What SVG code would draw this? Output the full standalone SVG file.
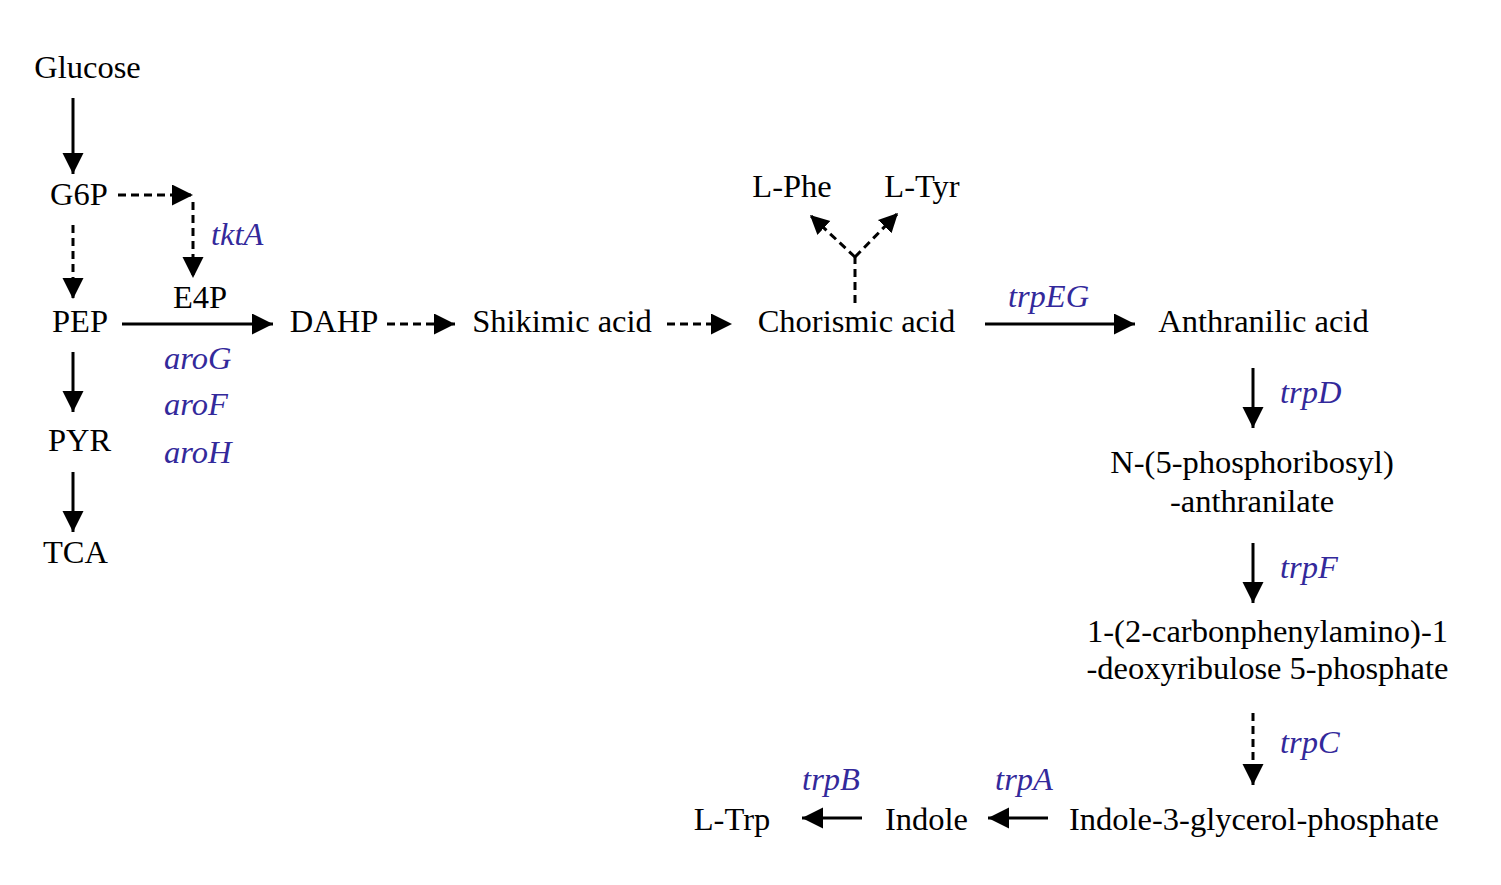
<svg xmlns="http://www.w3.org/2000/svg" width="1501" height="885" viewBox="0 0 1501 885">
<defs>
<style>
.t{font-family:"Liberation Serif","Times New Roman",serif;font-size:32.5px;fill:#000}
.c{text-anchor:middle}
.g{font-family:"Liberation Serif","Times New Roman",serif;font-size:32.5px;font-style:italic;fill:#33299b}
.s{stroke:#000;stroke-width:3;fill:none}
.d{stroke:#000;stroke-width:3;fill:none;stroke-dasharray:8 5}
</style>
<marker id="ah" markerWidth="22" markerHeight="22" refX="21" refY="10.5" orient="auto" markerUnits="userSpaceOnUse">
<path d="M0,0 L21,10.5 L0,21 z" fill="#000"/>
</marker>
<marker id="ahs" markerWidth="20" markerHeight="20" refX="19" refY="9.5" orient="auto" markerUnits="userSpaceOnUse">
<path d="M0,0 L19,9.5 L0,19 z" fill="#000"/>
</marker>
</defs>
<rect width="1501" height="885" fill="#fff"/>
<g id="connectors">
<line class="s" x1="73" y1="98" x2="73" y2="174" marker-end="url(#ah)"/>
<line class="d" x1="73" y1="225" x2="73" y2="299" marker-end="url(#ah)"/>
<line class="s" x1="73" y1="352" x2="73" y2="412" marker-end="url(#ah)"/>
<line class="s" x1="73" y1="472" x2="73" y2="532" marker-end="url(#ah)"/>
<line class="d" x1="118" y1="195" x2="193" y2="195" marker-end="url(#ah)"/>
<line class="d" x1="193" y1="202" x2="193" y2="278" marker-end="url(#ah)"/>
<line class="s" x1="122" y1="324" x2="273" y2="324" marker-end="url(#ah)"/>
<line class="d" x1="387" y1="324" x2="455" y2="324" marker-end="url(#ah)"/>
<line class="d" x1="667" y1="324" x2="732" y2="324" marker-end="url(#ah)"/>
<line class="d" x1="855" y1="303" x2="855" y2="257"/>
<line class="d" x1="855" y1="257" x2="810" y2="215" marker-end="url(#ahs)"/>
<line class="d" x1="855" y1="257" x2="898" y2="213" marker-end="url(#ahs)"/>
<line class="s" x1="985" y1="324" x2="1135" y2="324" marker-end="url(#ah)"/>
<line class="s" x1="1253" y1="368" x2="1253" y2="428" marker-end="url(#ah)"/>
<line class="s" x1="1253" y1="543" x2="1253" y2="603" marker-end="url(#ah)"/>
<line class="d" x1="1253" y1="713" x2="1253" y2="785" marker-end="url(#ah)"/>
<line class="s" x1="1048" y1="818" x2="988" y2="818" marker-end="url(#ah)"/>
<line class="s" x1="862" y1="818" x2="802" y2="818" marker-end="url(#ah)"/>
</g>
<g id="glucose"><text class="t c" x="87.5" y="78">Glucose</text></g>
<g id="g6p"><text class="t c" x="79" y="205">G6P</text></g>
<g id="pep"><text class="t c" x="80" y="332">PEP</text></g>
<g id="pyr"><text class="t c" x="79.5" y="451">PYR</text></g>
<g id="tca"><text class="t c" x="75.5" y="563">TCA</text></g>
<g id="e4p"><text class="t c" x="200" y="308">E4P</text></g>
<g id="dahp"><text class="t c" x="334" y="332">DAHP</text></g>
<g id="shikimic"><text class="t c" x="562" y="332">Shikimic acid</text></g>
<g id="chorismic"><text class="t c" x="856.5" y="332">Chorismic acid</text></g>
<g id="anthranilic"><text class="t c" x="1263.5" y="332">Anthranilic acid</text></g>
<g id="lphe"><text class="t c" x="792" y="197">L-Phe</text></g>
<g id="ltyr"><text class="t c" x="922" y="197">L-Tyr</text></g>
<g id="prants"><text class="t c" x="1252" y="473">N-(5-phosphoribosyl)</text><text class="t c" x="1252" y="512">-anthranilate</text></g>
<g id="cdrp"><text class="t c" x="1267.5" y="642">1-(2-carbonphenylamino)-1</text><text class="t c" x="1267.5" y="679">-deoxyribulose 5-phosphate</text></g>
<g id="igp"><text class="t c" x="1254" y="830">Indole-3-glycerol-phosphate</text></g>
<g id="indole"><text class="t c" x="926.5" y="830">Indole</text></g>
<g id="ltrp"><text class="t c" x="732" y="830">L-Trp</text></g>
<g id="genes">
<text class="g" x="211" y="245">tktA</text>
<text class="g" x="164" y="369">aroG</text>
<text class="g" x="164" y="415">aroF</text>
<text class="g" x="164" y="463">aroH</text>
<text class="g c" x="1048.5" y="307">trpEG</text>
<text class="g" x="1280" y="403">trpD</text>
<text class="g" x="1280" y="578">trpF</text>
<text class="g" x="1280" y="753">trpC</text>
<text class="g c" x="1024" y="790">trpA</text>
<text class="g c" x="831" y="790">trpB</text>
</g>
</svg>
